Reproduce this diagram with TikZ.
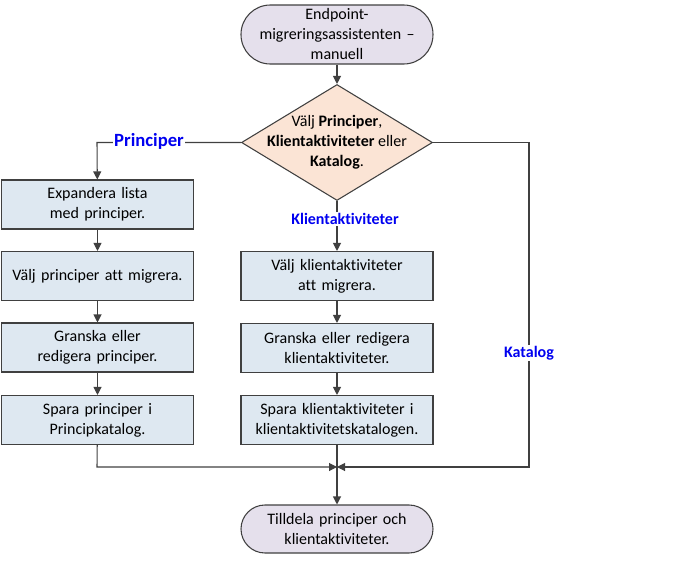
\documentclass[tikz,border=0pt]{standalone}
\usepackage{fontspec}
\setmainfont[Ligatures={NoCommon}]{Carlito}
\usetikzlibrary{shapes.geometric,arrows.meta}
\definecolor{lineC}{HTML}{404040}
\definecolor{termC}{HTML}{E5E0EC}
\definecolor{decC}{HTML}{FBE4D5}
\definecolor{procC}{HTML}{DEE8F1}
\definecolor{lblC}{HTML}{0000F0}
\tikzset{
  base/.style={draw=lineC, line width=0.8pt, align=center, text=black, inner sep=2pt,
    font=\fontsize{12pt}{15pt}\selectfont},
  term/.style={base, rectangle, fill=termC, minimum width=144pt, text width=136pt, inner ysep=0pt},
  procbox/.style={base, rectangle, fill=procC, minimum width=143.25pt, minimum height=36.75pt, text width=140pt},
  dec/.style={base, diamond, fill=decC, minimum width=143.25pt, minimum height=87pt, inner sep=0pt},
  dtxt/.style={align=center, font=\fontsize{12pt}{15pt}\selectfont, inner sep=0pt},
  conn/.style={draw=lineC, line width=0.8pt},
  arr/.style={conn, -{Triangle[length=6pt,width=6pt]}},
  lbl/.style={fill=white, text=lblC, font=\bfseries\fontsize{12pt}{14pt}\selectfont, inner sep=1pt},
}
\begin{document}
\begin{tikzpicture}[x=0.75pt,y=-0.75pt]
\useasboundingbox (0,0) rectangle (675,578);
\node[term, minimum height=44.25pt, rounded corners=22pt] (start) at (337,34.5) {Endpoint-\\migreringsassistenten –\\manuell};
\node[dec] (d) at (337,142.5) {};
\node[dtxt] (dt) at (d.center) {Välj \textbf{Principer},\\\textbf{Klientaktiviteter} eller\\\textbf{Katalog}.};
\node[procbox] (p1) at (97.5,204.5) {Expandera lista\\med principer.};
\node[procbox] (p2) at (97.5,276) {Välj principer att migrera.};
\node[procbox] (p3) at (97.5,347.5) {Granska eller\\redigera principer.};
\node[procbox] (p4) at (97.5,420) {Spara principer i\\Principkatalog.};
\node[procbox] (k1) at (337,276) {Välj klientaktiviteter\\att migrera.};
\node[procbox] (k2) at (337,348) {Granska eller redigera\\klientaktiviteter.};
\node[procbox] (k3) at (337,420) {Spara klientaktiviteter i\\klientaktivitetskatalogen.};
\node[term, minimum height=36pt, rounded corners=18pt] (end) at (337,529) {Tilldela principer och\\klientaktiviteter.};
\coordinate (pl) at (97,142.5);
\coordinate (kr) at (529,142.5);
\coordinate (mj) at (337,467);
\coordinate (lb) at (97,467);
\coordinate (rb) at (529,467);
% connectors
\draw[arr] (start) -- (d);
\draw[arr] (d.west) -- (pl) -- (p1);
\draw[arr] (p1) -- (p2);
\draw[arr] (p2) -- (p3);
\draw[arr] (p3) -- (p4);
\draw[arr] (d.south) -- (k1);
\draw[arr] (k1) -- (k2);
\draw[arr] (k2) -- (k3);
\draw[arr] (k3) -- (end);
\draw[arr] (p4) -- (lb) -- (mj);
\draw[arr] (d.east) -- (kr) -- (rb) -- (mj);
% labels
\node[lbl, font=\bfseries\fontsize{14pt}{16pt}\selectfont] (lp) at (149,141) {Principer};
\node[lbl] (lk) at (345,219) {Klientaktiviteter};
\node[lbl] (lc) at (529,353) {Katalog};
\end{tikzpicture}
\end{document}
